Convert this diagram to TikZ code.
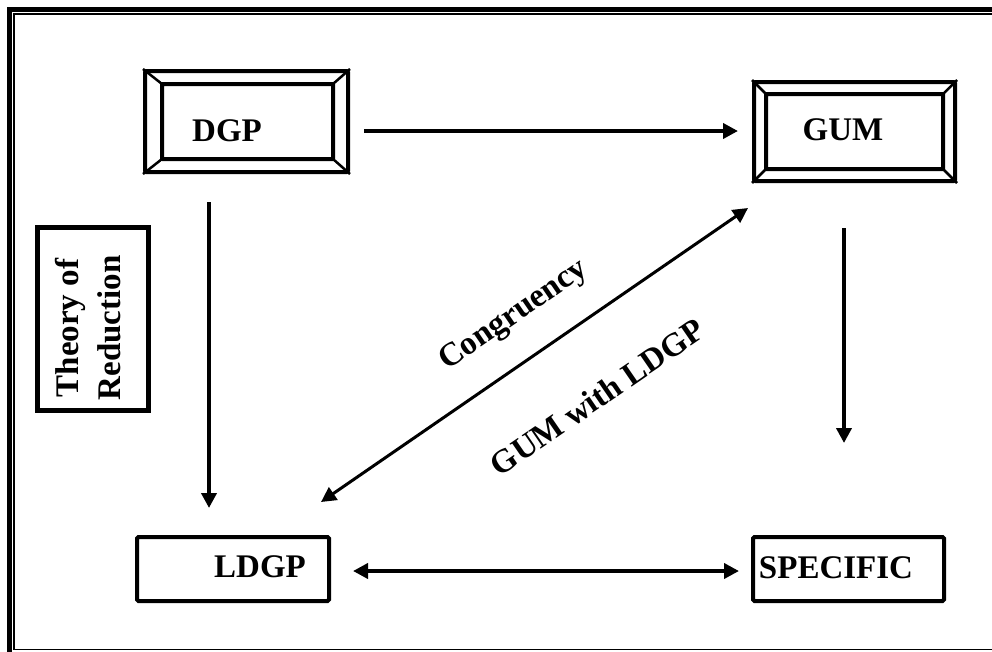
\documentclass[tikz,border=0pt]{standalone}
\usepackage{fontspec}
\setmainfont{Liberation Serif}
\usetikzlibrary{arrows.meta,calc}
\begin{document}
\begin{tikzpicture}[x=1pt,y=-1pt,
  lbl/.style={font=\fontsize{33}{42}\selectfont\bfseries, inner sep=0pt},
  boxframe/.style={draw, line width=4pt, rounded corners=1.5pt, inner sep=0pt},
  innerframe/.style={line width=4pt, rounded corners=1pt},
  bevel/.style={line width=2.5pt},
  conn/.style={line width=4pt, -{Triangle[length=15pt,width=15pt]}},
  dconn/.style={line width=4pt, {Triangle[length=15pt,width=15pt]}-{Triangle[length=15pt,width=15pt]}},
  diagconn/.style={line width=3pt, {Triangle[length=15pt,width=15pt]}-{Triangle[length=15pt,width=15pt]}}]
\useasboundingbox (0,0) rectangle (992,651);
% page frame
\begin{scope}
\clip (0,0) rectangle (992,651);
\draw[line width=5pt] (9.5,700) -- (9.5,9.5) -- (1100,9.5);
\draw[line width=1.5pt] (1100,14) -- (14,14) -- (14,649.5) -- (1100,649.5);
\end{scope}
% DGP box
\node[boxframe, minimum width=203pt, minimum height=101pt] (dgp) at (246.5,121.5) {};
\draw[innerframe] (162,84) rectangle (333,159);
\draw[bevel] (dgp.north west) -- (162,84) (dgp.north east) -- (333,84)
  (dgp.south west) -- (162,159) (dgp.south east) -- (333,159);
\node[lbl] (dgptxt) at (227,131) {DGP};
% GUM box
\node[boxframe, minimum width=201pt, minimum height=99pt] (gum) at (854.5,131.5) {};
\draw[innerframe] (766,94) rectangle (943,169);
\draw[bevel] (gum.north west) -- (766,94) (gum.north east) -- (943,94)
  (gum.south west) -- (766,169) (gum.south east) -- (943,169);
\node[lbl] (gumtxt) at (843,130) {GUM};
% LDGP box
\node[boxframe, minimum width=192pt, minimum height=64pt] (ldgp) at (233,569) {};
\node[lbl] (ldgptxt) at (260,567) {LDGP};
% SPECIFIC box
\node[boxframe, minimum width=191pt, minimum height=64pt] (spec) at (848.5,569) {};
\node[lbl] (spectxt) at (836,568) {SPECIFIC};
% Theory of Reduction box
\node[draw, line width=5pt, minimum width=111pt, minimum height=183.5pt, inner sep=0pt] (theory) at (92.5,319) {};
\node[lbl, rotate=90, align=center] (theorytxt) at (88,328) {Theory of\\Reduction};
% connector end points
\coordinate (a1s) at (209,202);
\coordinate (a1e) at (209,508);
\coordinate (a2s) at (364,131);
\coordinate (a2e) at (738,131);
\coordinate (a3s) at (844,228);
\coordinate (a3e) at (844,443);
\coordinate (a4s) at (353,571);
\coordinate (a4e) at (739,571);
\coordinate (a5s) at (321,502);
\coordinate (a5e) at (748,208);
\draw[conn] (a1s) -- (a1e);
\draw[conn] (a2s) -- (a2e);
\draw[conn] (a3s) -- (a3e);
\draw[dconn] (a4s) -- (a4e);
\draw[diagconn] (a5s) -- (a5e);
% diagonal labels
\node[lbl, rotate=34.5] (cong) at (514,316) {Congruency};
\node[lbl, rotate=34.5] (gwl) at (597,397) {GUM with LDGP};
\end{tikzpicture}
\end{document}
